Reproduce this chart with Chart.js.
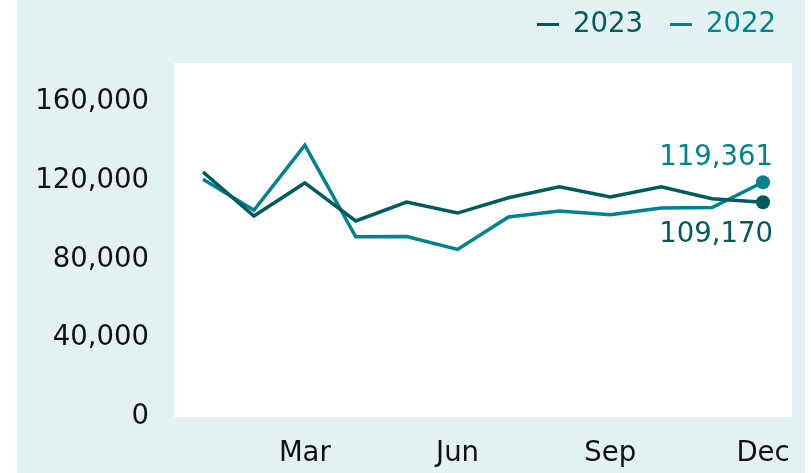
<!DOCTYPE html>
<html>
<head>
<meta charset="utf-8">
<script src="https://cdn.jsdelivr.net/npm/chart.js@4"></script>
<style>
  html, body { margin: 0; padding: 0; background: #fff; }
  #wrap { width: 811px; height: 473px; position: relative; }
</style>
</head>
<body>
<div id="wrap"><canvas id="chart"></canvas></div>
<script>
// data
const months = ['Jan', 'Feb', 'Mar', 'Apr', 'May', 'Jun', 'Jul', 'Aug', 'Sep', 'Oct', 'Nov', 'Dec'];
const shownMonths = ['Mar', 'Jun', 'Sep', 'Dec'];
const values2023 = [124600, 102200, 119000, 99700, 109300, 103700, 111500, 117000, 111900, 117000, 111000, 109170];
const values2022 = [120900, 105100, 138200, 91600, 91800, 85200, 101700, 104800, 102900, 106300, 106500, 119361];
const yTicks = [0, 40000, 80000, 120000, 160000];

const dark = '#005b5e';
const teal = '#00838f';
const bg = '#e4f1f3';
const font = 'DejaVu Sans, Verdana, sans-serif';
const fsize = 27.5;

function toPoints(vals) {
    return vals.map((v, i) => ({ x: i + 1, y: v }));
}

const backdrop = {
    id: 'backdrop',
    beforeDraw(chart) {
        const ctx = chart.ctx;
        const a = chart.chartArea;
        ctx.save();
        ctx.fillStyle = bg;
        ctx.fillRect(17, 0, 788, chart.height);
        ctx.fillStyle = '#ffffff';
        ctx.fillRect(a.left, a.top, a.right - a.left, a.bottom - a.top);
        ctx.restore();
    }
};

const extras = {
    id: 'extras',
    afterDraw(chart) {
        const ctx = chart.ctx;
        ctx.save();
        ctx.font = fsize + 'px ' + font;
        ctx.textBaseline = 'middle';

        // legend
        const items = [['2023', dark, 537], ['2022', teal, 670]];
        items.forEach(([txt, col, x]) => {
            ctx.fillStyle = col;
            ctx.fillRect(x, 23, 22, 3);
            ctx.textAlign = 'left';
            ctx.fillText(txt, x + 36, 25);
        });

        // end labels
        const last = values2022.length - 1;
        const p22 = chart.getDatasetMeta(1).data[last];
        const p23 = chart.getDatasetMeta(0).data[last];
        ctx.textAlign = 'right';
        ctx.fillStyle = teal;
        ctx.fillText(values2022[last].toLocaleString('en-US'), p22.x + 10, p22.y - 24);
        ctx.fillStyle = dark;
        ctx.fillText(values2023[last].toLocaleString('en-US'), p23.x + 10, p23.y + 33);
        ctx.restore();
    }
};

function lastOnly(vals, r) {
    return vals.map((v, i) => i === vals.length - 1 ? r : 0);
}

new Chart(document.getElementById('chart'), {
    type: 'line',
    data: {
        datasets: [{
            label: '2023',
            data: toPoints(values2023),
            borderColor: dark,
            backgroundColor: dark,
            borderWidth: 3.5,
            pointRadius: lastOnly(values2023, 7),
            pointBorderWidth: 0,
            tension: 0
        }, {
            label: '2022',
            data: toPoints(values2022),
            borderColor: teal,
            backgroundColor: teal,
            borderWidth: 3.5,
            pointRadius: lastOnly(values2022, 7),
            pointBorderWidth: 0,
            tension: 0
        }]
    },
    options: {
        responsive: true,
        maintainAspectRatio: false,
        animation: false,
        layout: { padding: { left: 0, top: 63, right: 19, bottom: 0 } },
        plugins: { legend: { display: false }, tooltip: { enabled: false } },
        scales: {
            x: {
                type: 'linear',
                min: 0.43,
                max: 12.57,
                afterBuildTicks: s => { s.ticks = shownMonths.map(m => ({ value: months.indexOf(m) + 1 })); },
                afterFit: s => { s.height = 56; },
                grid: { display: false, drawTicks: false },
                border: { display: false },
                ticks: {
                    padding: 20,
                    color: '#111',
                    font: { family: font, size: fsize },
                    maxRotation: 0,
                    callback: v => months[v - 1]
                }
            },
            y: {
                min: 0,
                max: 180000,
                afterBuildTicks: s => { s.ticks = yTicks.map(v => ({ value: v })); },
                afterFit: s => { s.width = 174; },
                grid: { display: false, drawTicks: false },
                border: { display: false },
                ticks: {
                    padding: 25,
                    color: '#111',
                    font: { family: font, size: fsize },
                    callback: v => v.toLocaleString('en-US')
                }
            }
        }
    },
    plugins: [backdrop, extras]
});
</script>
</body>
</html>
